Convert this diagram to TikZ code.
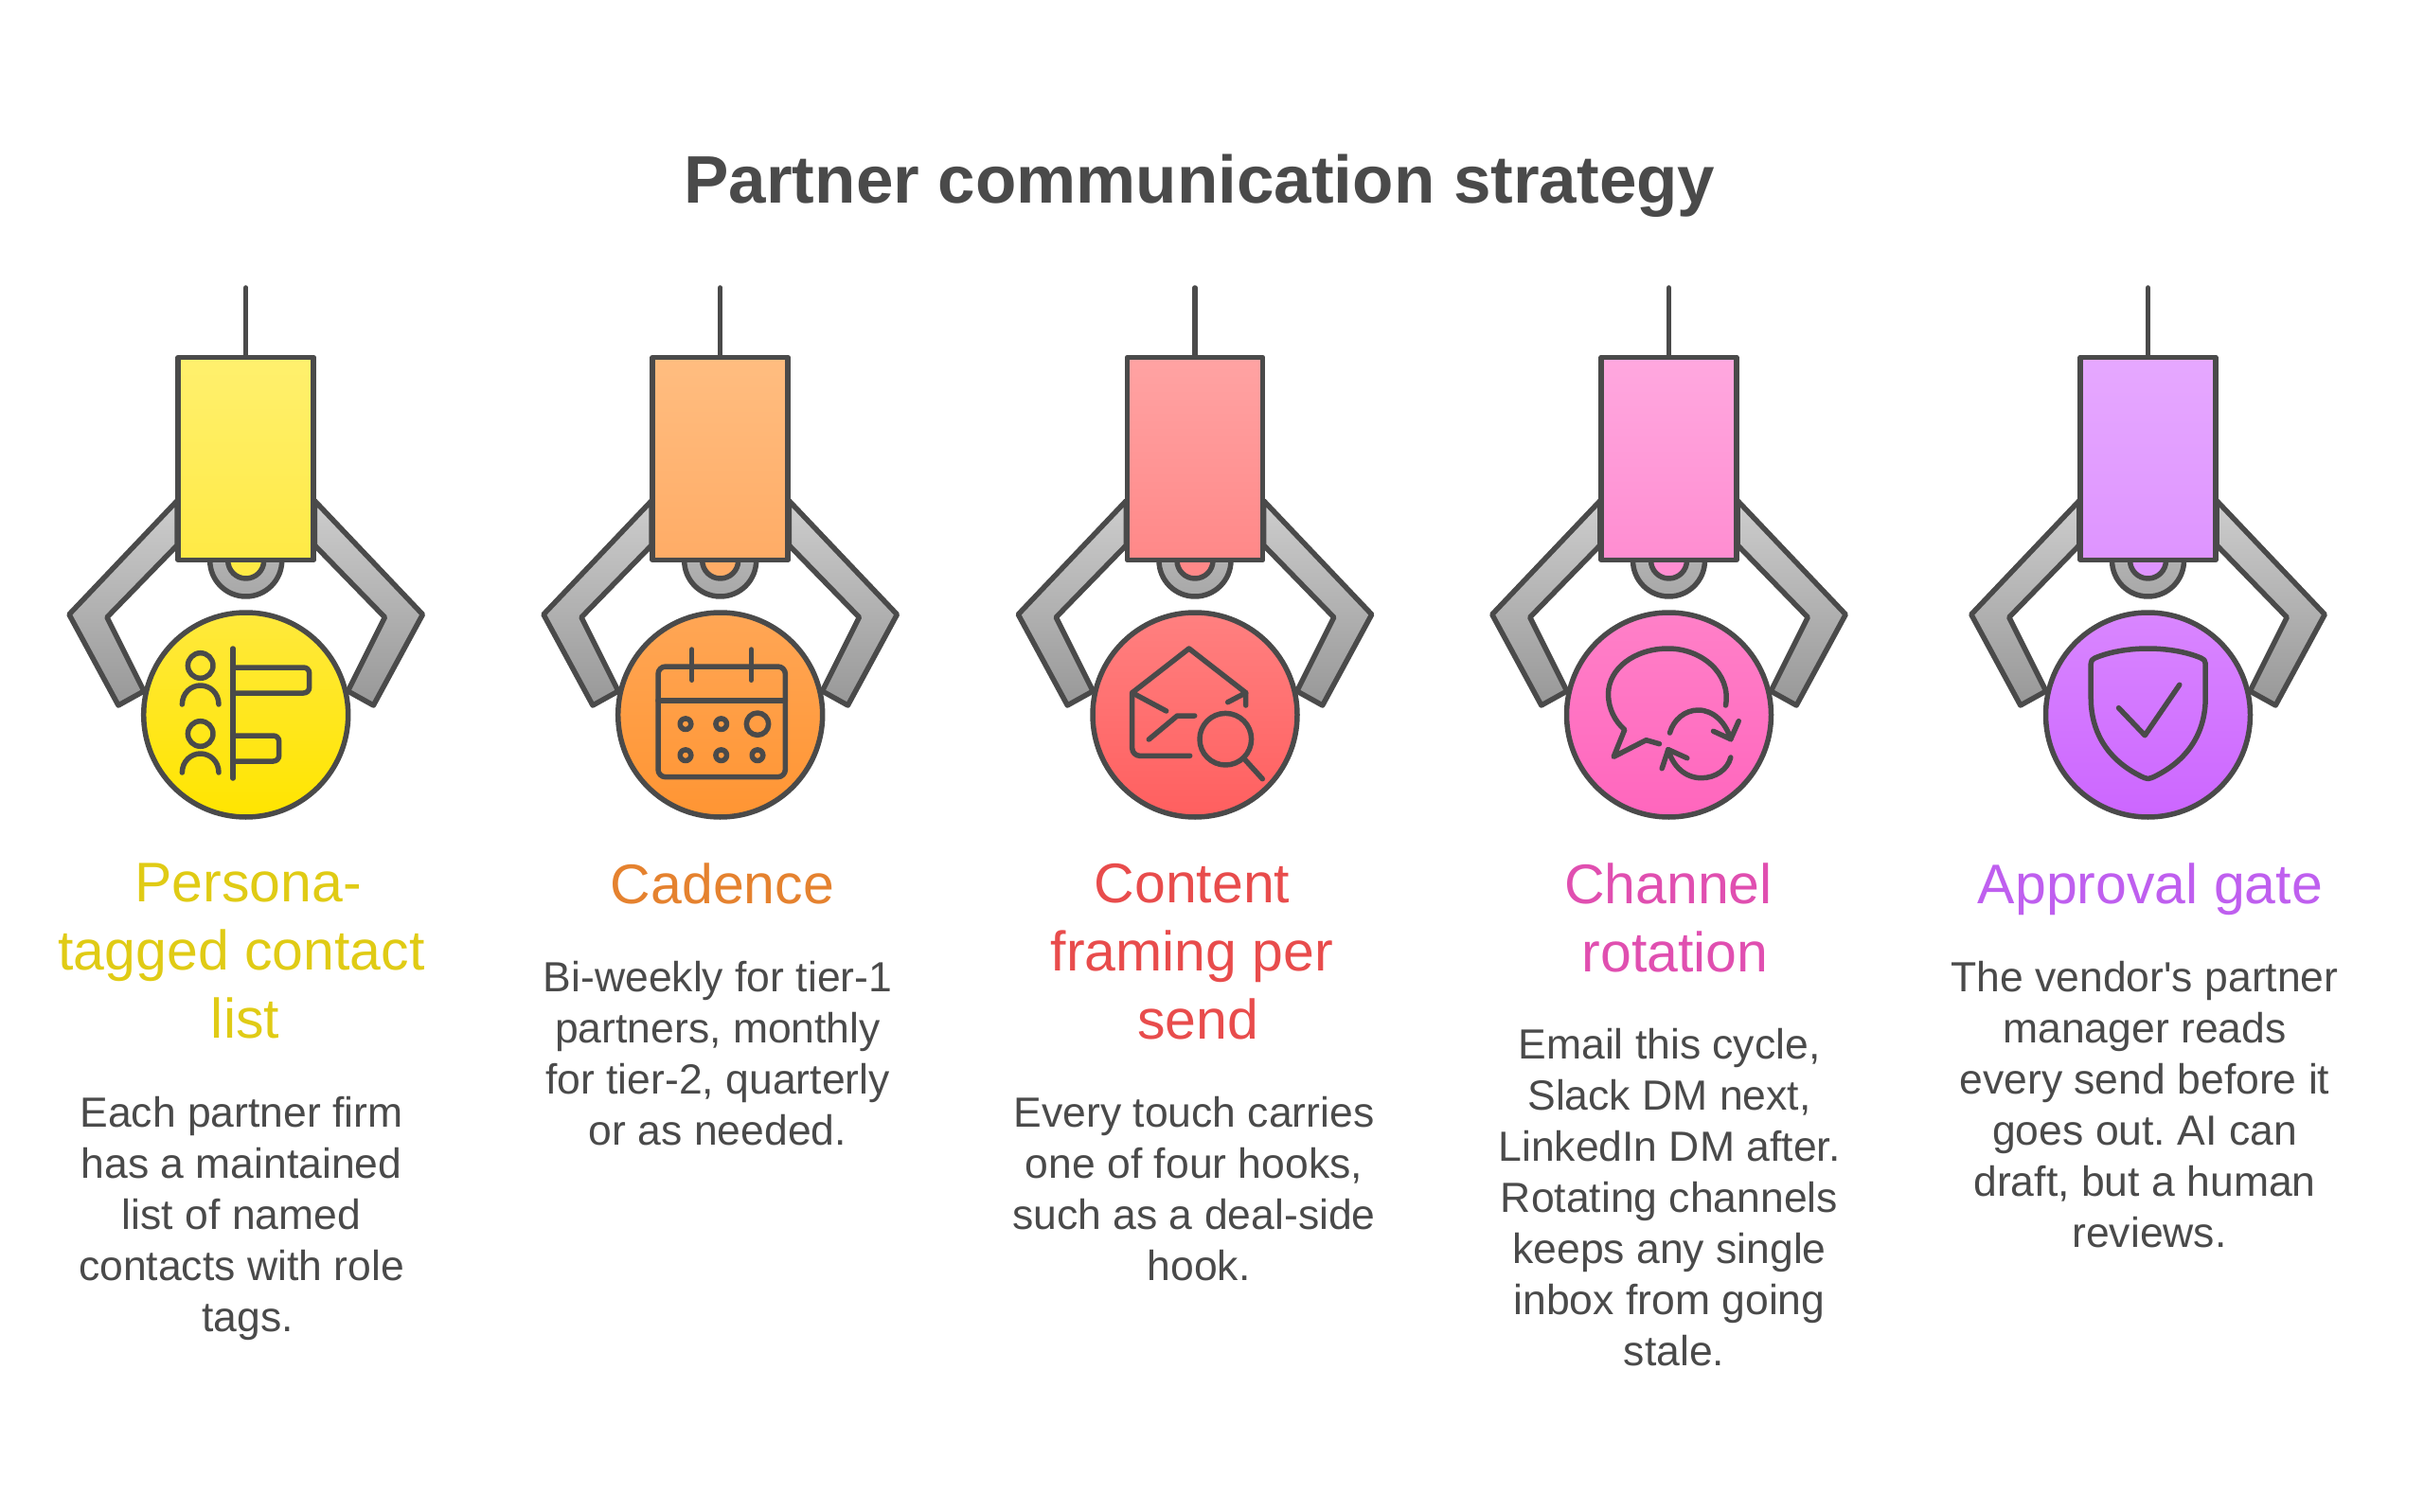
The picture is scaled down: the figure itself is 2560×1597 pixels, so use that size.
\documentclass[tikz,border=0pt]{standalone}
\usepackage{fontspec}
\setmainfont[Ligatures=NoCommon]{Liberation Sans}
\definecolor{ink}{HTML}{4A4A4A}
\definecolor{clawtop}{HTML}{CDCDCD}
\definecolor{clawbot}{HTML}{989898}
\definecolor{hubtop}{HTML}{BBBBBB}
\definecolor{hubbot}{HTML}{A8A8A8}
\definecolor{boxtopa}{HTML}{FFF06E}
\definecolor{boxbota}{HTML}{FFEA45}
\definecolor{disctopa}{HTML}{FFE93C}
\definecolor{discbota}{HTML}{FFE500}
\definecolor{heada}{HTML}{E0CB15}
\definecolor{boxtopb}{HTML}{FFBD80}
\definecolor{boxbotb}{HTML}{FFAC66}
\definecolor{disctopb}{HTML}{FFA655}
\definecolor{discbotb}{HTML}{FF9533}
\definecolor{headb}{HTML}{E5822F}
\definecolor{boxtopc}{HTML}{FFA3A3}
\definecolor{boxbotc}{HTML}{FF8888}
\definecolor{disctopc}{HTML}{FF8080}
\definecolor{discbotc}{HTML}{FF5F5F}
\definecolor{headc}{HTML}{E84C4C}
\definecolor{boxtopd}{HTML}{FFA8DF}
\definecolor{boxbotd}{HTML}{FF8DD1}
\definecolor{disctopd}{HTML}{FF80C8}
\definecolor{discbotd}{HTML}{FF66BD}
\definecolor{headd}{HTML}{E04FB0}
\definecolor{boxtope}{HTML}{E6A8FF}
\definecolor{boxbote}{HTML}{DE94FF}
\definecolor{disctope}{HTML}{D986FF}
\definecolor{discbote}{HTML}{CC66FF}
\definecolor{heade}{HTML}{BF5FEF}
\frenchspacing

\begin{document}
\begin{tikzpicture}[x=1pt, y=-1pt,
    outline/.style = {draw=ink, line width=5.5pt, line join=round},
    gripbox/.style = {outline, rectangle, minimum width=143pt, minimum height=214pt, inner sep=0pt},
    hub/.style = {outline, circle, minimum size=76pt, inner sep=0pt, top color=hubtop, bottom color=hubbot},
    hubcore/.style = {outline, circle, minimum size=38pt, inner sep=0pt},
    disc/.style = {outline, circle, minimum size=216pt, inner sep=0pt},
    icon/.style = {draw=ink, line width=5.5pt, line cap=round, line join=round},
    heading/.style = {anchor=north, align=center, inner sep=0pt, font=\fontsize{59}{72}\selectfont},
    note/.style = {anchor=north, align=center, inner sep=0pt, text=ink, font=\fontsize{44.5}{54}\selectfont}]
    \useasboundingbox (0,0) rectangle (2560,1597);

    \node[anchor=center, inner sep=0pt, text=ink, font=\fontsize{71}{84}\selectfont\bfseries] (title) at (1267,196) {Partner communication strategy};

    \foreach \i/\cx in {a/259.7, b/760.7, c/1262, d/1762.5, e/2268.5}{
        \begin{scope}[shift={(\cx,0)}]
            \draw[outline, top color=clawtop, bottom color=clawbot] (-72.7,529) -- (-186.7,649) -- (-134.7,745) -- (-107.7,730) -- (-146.7,652) -- (-72.7,576) -- cycle;
            \draw[outline, top color=clawtop, bottom color=clawbot] (72.7,529) -- (186.7,649) -- (134.7,745) -- (107.7,730) -- (146.7,652) -- (72.7,576) -- cycle;
            \coordinate (hook\i) at (0,304);
            \node[hub] (hub\i) at (0,592) {};
            \node[hubcore, top color=boxbot\i, bottom color=boxbot\i] (core\i) at (0,592) {};
            \node[gripbox, top color=boxtop\i, bottom color=boxbot\i] (box\i) at (0,484.5) {};
            \draw[outline, line cap=round] (hook\i) -- (box\i.north);
            \node[disc, top color=disctop\i, bottom color=discbot\i] (disc\i) at (0,755) {};
        \end{scope}
    }

    \begin{scope}[shift={(259.7,756)}, icon]
        \draw (-13.7,-71) -- (-13.7,66);
        \draw[rounded corners=6pt] (-13.7,-51) -- (67,-51) -- (67,-24) -- (-13.7,-24);
        \draw[rounded corners=6pt] (-13.7,21) -- (35,21) -- (35,48) -- (-13.7,48);
        \foreach \dy in {0,72}{
            \draw (-48,-53+\dy) circle[radius=13.3];
            \draw (-67.3,-12+\dy) .. controls (-67.3,-24+\dy) and (-58,-32+\dy) .. (-48,-32+\dy) .. controls (-38,-32+\dy) and (-28.7,-24+\dy) .. (-28.7,-12+\dy);
        }
    \end{scope}

    \begin{scope}[shift={(760.7,756)}, icon]
        \draw[rounded corners=8pt] (-65.7,-52) rectangle (68.7,64.7);
        \draw (-65.7,-16) -- (68.7,-16);
        \draw (-30,-70) -- (-30,-37.7);
        \draw (32.7,-70) -- (32.7,-37.7);
        \draw (39.3,8.7) circle[radius=11.7];
        \foreach \dx/\dy in {-36.7/8.7, 1/8.7, -36.7/41.7, 1/41.7, 39.3/41.7}{
            \draw (\dx,\dy) circle[radius=5.8];
        }
    \end{scope}

    \begin{scope}[shift={(1262,756)}, icon]
        \draw[rounded corners=8pt] (-5.3,42.3) -- (-66.3,42.3) -- (-66.3,-24.3);
        \draw (-30.3,-5) -- (-66.3,-24.3) -- (-6.3,-71) -- (53.7,-24.3) -- (53.7,-11);
        \draw (34.7,-14.3) -- (53.7,-24.3);
        \draw (-48.7,25) -- (-18.7,0) -- (-0.3,0);
        \draw (32.3,24.7) circle[radius=27.3];
        \draw (51.3,44.7) -- (71.3,66.7);
    \end{scope}

    \begin{scope}[shift={(1762.5,756)}, icon]
        \draw (60,-11) .. controls (66,-45) and (34,-71) .. (-0.7,-71) .. controls (-36,-71) and (-64,-50) .. (-64,-22.7) .. controls (-64,-8) and (-57,6) .. (-46.7,14.7) -- (-58.3,43.3) -- (-24,25.7) -- (-10,29.7);
        \draw (1,18) .. controls (5,4) and (17,-6) .. (31,-6) .. controls (47,-6) and (60,7) .. (65.3,24.7);
        \draw (47,16.3) -- (65.3,24.7) -- (73.7,5.7);
        \draw (65.3,44) .. controls (62,57) and (49,65.7) .. (34.3,65.7) .. controls (17,65.7) and (4,53) .. (-0.7,35.7);
        \draw (19.3,44.7) -- (-0.7,35.7) -- (-7.3,55.7);
    \end{scope}

    \begin{scope}[shift={(2268.5,756)}, icon]
        \draw (0,-71) .. controls (22,-71) and (42,-67) .. (56,-61) .. controls (59,-60) and (60.7,-58) .. (60.7,-55) -- (60.7,-19) .. controls (60.7,22) and (38,50) .. (4,65.5) .. controls (1.5,66.8) and (-1.5,66.8) .. (-4,65.5) .. controls (-38,50) and (-60.3,22) .. (-60.3,-19) -- (-60.3,-55) .. controls (-60.3,-58) and (-59,-60) .. (-56,-61) .. controls (-42,-67) and (-22,-71) .. (0,-71) -- cycle;
        \draw (-31,-8.3) -- (-3.3,20.7) -- (33.3,-32.7);
    \end{scope}

    \node[heading, text=heada] (titlea) at (255,912) {\hspace*{14pt}Persona-\\tagged contact\\\hspace*{8pt}list};
    \node[heading, text=headb] (titleb) at (763,912) {Cadence};
    \node[heading, text=headc] (titlec) at (1259,912) {Content\\framing per\\\hspace*{12pt}send};
    \node[heading, text=headd] (titled) at (1762,912) {Channel\\\hspace*{14pt}rotation};
    \node[heading, text=heade] (titlee) at (2271,912) {Approval gate};

    \node[note] (notea) at (255,1158) {Each partner firm\\has a maintained\\list of named\\contacts with role\\\hspace*{13pt}tags.};
    \node[note] (noteb) at (758,1015) {Bi-weekly for tier-1\\partners, monthly\\for tier-2, quarterly\\or as needed.};
    \node[note] (notec) at (1261,1158) {Every touch carries\\one of four hooks,\\such as a deal-side\\\hspace*{10pt}hook.};
    \node[note] (noted) at (1763,1086) {Email this cycle,\\Slack DM next,\\LinkedIn DM after.\\Rotating channels\\keeps any single\\inbox from going\\\hspace*{10pt}stale.};
    \node[note] (notee) at (2265,1015) {The vendor\textquotesingle s partner\\manager reads\\every send before it\\goes out. AI can\\draft, but a human\\\hspace*{10pt}reviews.};
\end{tikzpicture}
\end{document}
